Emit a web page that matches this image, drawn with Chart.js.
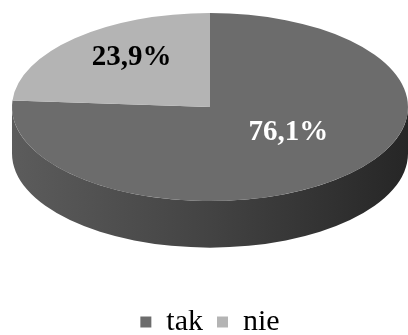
<!DOCTYPE html>
<html>
<head>
<meta charset="utf-8">
<script src="https://cdn.jsdelivr.net/npm/chart.js@4.4.1/dist/chart.umd.min.js"></script>
<style>
  html, body { margin: 0; padding: 0; background: #fff; overflow: hidden; }
  #wrap { width: 408px; height: 335px; }
</style>
</head>
<body>
<div id="wrap"><canvas id="pie"></canvas></div>
<script>
const labels = ['tak', 'nie'];
const shares = [76.1, 23.9];
const topColors = ['#6c6c6c', '#b4b4b4'];
const valueColors = ['#ffffff', '#000000'];

// 3d look: tilt of the disc and height of its side wall, relative to the horizontal radius
const TILT = 0.475;
const DEPTH = 0.235;

Chart.defaults.font.family = 'Liberation Serif';

function ellipseOf(chart) {
  const arc = chart.getDatasetMeta(0).data[0];
  const area = chart.chartArea;
  const R = arc.outerRadius;
  const rx = (area.right - area.left) / 2;
  const ry = rx * TILT;
  return { arc, R, cx: arc.x, top: area.top, rx, ry, ey: area.top + ry, depth: rx * DEPTH };
}

const pie3d = {
  id: 'pie3d',
  beforeDatasetsDraw(chart) {
    const ctx = chart.ctx;
    const e = ellipseOf(chart);
    // side wall, only the front half of the rim is visible
    const grad = ctx.createLinearGradient(e.cx - e.rx, 0, e.cx + e.rx, 0);
    grad.addColorStop(0, '#5c5c5c');
    grad.addColorStop(0.5, '#434343');
    grad.addColorStop(1, '#262626');
    chart.getDatasetMeta(0).data.forEach(a => {
      for (const k of [-2 * Math.PI, 0, 2 * Math.PI]) {
        const s = Math.max(a.startAngle + k, 0);
        const t = Math.min(a.endAngle + k, Math.PI);
        if (t <= s) continue;
        ctx.beginPath();
        ctx.ellipse(e.cx, e.ey, e.rx, e.ry, 0, s, t);
        ctx.ellipse(e.cx, e.ey + e.depth, e.rx, e.ry, 0, t, s, true);
        ctx.closePath();
        ctx.fillStyle = grad;
        ctx.fill();
      }
    });
    // squash the round pie into the top face of the disc
    const sx = e.rx / e.R;
    const sy = e.ry / e.R;
    ctx.save();
    ctx.translate(e.cx, e.top);
    ctx.scale(sx, sy);
    ctx.translate(-e.cx, -e.top);
  },
  afterDatasetsDraw(chart) {
    const ctx = chart.ctx;
    ctx.restore();
    const e = ellipseOf(chart);
    ctx.save();
    ctx.font = 'bold 29px "Liberation Serif"';
    ctx.textAlign = 'center';
    ctx.textBaseline = 'middle';
    chart.getDatasetMeta(0).data.forEach((a, i) => {
      const mid = (a.startAngle + a.endAngle) / 2;
      const x = e.cx + e.rx * 0.58 * Math.cos(mid);
      const y = e.ey + e.ry * 0.55 * Math.sin(mid) - 12;
      ctx.fillStyle = valueColors[i];
      ctx.fillText(shares[i].toFixed(1).replace('.', ',') + '%', x, y);
    });
    ctx.restore();
  }
};

new Chart(document.getElementById('pie'), {
  type: 'pie',
  data: {
    labels: labels,
    datasets: [{
      data: shares,
      backgroundColor: topColors,
      borderWidth: 0,
      hoverOffset: 0
    }]
  },
  options: {
    responsive: true,
    maintainAspectRatio: false,
    animation: false,
    layout: { padding: { left: 12, right: 0, top: 13, bottom: -12 } },
    plugins: {
      tooltip: { enabled: false },
      legend: {
        position: 'bottom',
        labels: {
          boxWidth: 11,
          boxHeight: 11,
          padding: 14,
          color: '#000',
          font: { family: 'Liberation Serif', size: 30 }
        }
      }
    }
  },
  plugins: [pie3d]
});
</script>
</body>
</html>
